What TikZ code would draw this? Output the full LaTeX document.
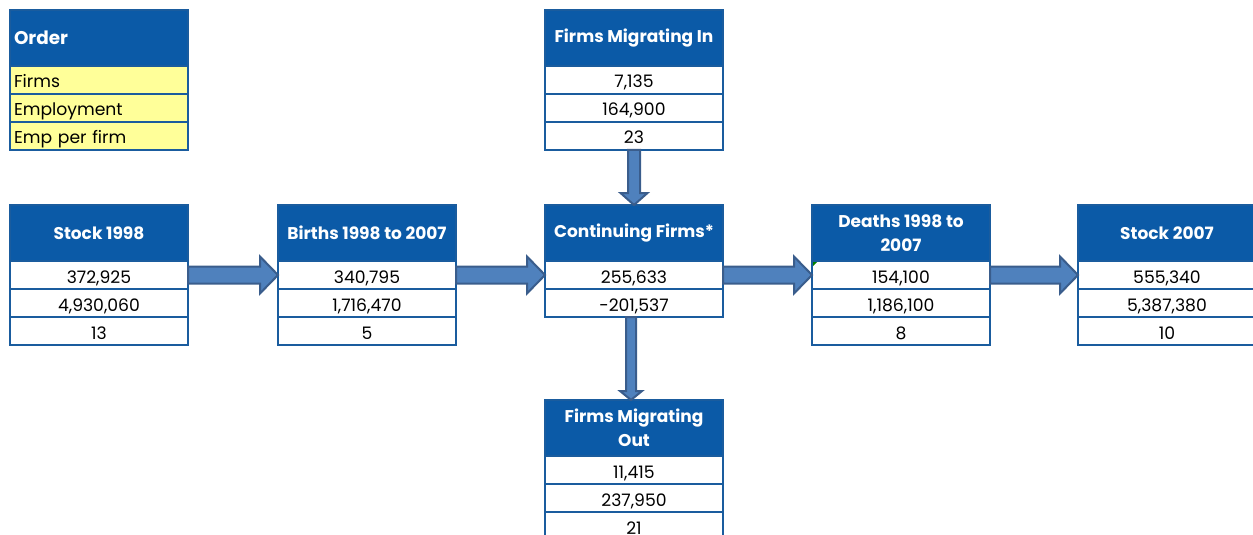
\documentclass[tikz,border=0pt]{standalone}
\usepackage{fontspec}
\setmainfont{Poppins}
\usetikzlibrary{positioning,calc}
\definecolor{hdrblue}{HTML}{0B5AA7}
\definecolor{rulblue}{HTML}{1A5C9E}
\definecolor{arrfill}{HTML}{4F81BD}
\definecolor{arrline}{HTML}{3A5D8C}
\definecolor{keyyel}{HTML}{FFFF99}

\begin{document}
\begin{tikzpicture}[
  x=0.5pt, y=-0.5pt,
  node distance=0pt,
  hdr/.style={draw=rulblue, fill=hdrblue, text=white, line width=1pt,
              minimum width=89pt, minimum height=28pt, inner sep=0pt,
              outer sep=0pt, align=center, anchor=north west,
              font=\fontsize{8.5}{12}\selectfont\bfseries},
  cell/.style={draw=rulblue, fill=white, line width=1pt, minimum width=89pt,
               minimum height=14pt, inner sep=0pt, outer sep=0pt,
               text height=8pt, text depth=0pt,
               font=\fontsize{8.6}{9}\selectfont},
  key/.style={cell, fill=keyyel, text width=85pt, align=left},
  fatarr/.style n args={3}{draw=arrline, fill=arrfill, line width=1pt,
    to path={
      ($(\tikztostart)!#1!90:(\tikztotarget)$)
      -- ($($(\tikztotarget)!#3!(\tikztostart)$)!#1!90:(\tikztotarget)$)
      -- ($($(\tikztotarget)!#3!(\tikztostart)$)!#2!90:(\tikztotarget)$)
      -- (\tikztotarget)
      -- ($($(\tikztotarget)!#3!(\tikztostart)$)!#2!-90:(\tikztotarget)$)
      -- ($($(\tikztotarget)!#3!(\tikztostart)$)!#1!-90:(\tikztotarget)$)
      -- ($(\tikztostart)!#1!-90:(\tikztotarget)$) -- cycle}},
]
  \useasboundingbox (0,0) rectangle (1253,535);
  \clip (0,0) rectangle (1253,535);

  % legend
  \node[hdr, text width=85pt, align=left, font=\fontsize{9.2}{12}\selectfont\bfseries]
       (ord) at (10,10) {Order};
  \node[key, below=of ord] (orda) {Firms};
  \node[key, below=of orda] (ordb) {Employment};
  \node[key, below=of ordb] (ordc) {Emp per firm};

  % migrating in
  \node[hdr] (min) at (545,10) {Firms Migrating In};
  \node[cell, below=of min] (mina) {7,135};
  \node[cell, below=of mina] (minb) {164,900};
  \node[cell, below=of minb] (minc) {23};

  % stock 1998
  \node[hdr] (sta) at (10,205) {Stock 1998};
  \node[cell, below=of sta] (staa) {372,925};
  \node[cell, below=of staa] (stab) {4,930,060};
  \node[cell, below=of stab] (stac) {13};

  % births
  \node[hdr] (bir) at (278,205) {Births 1998 to 2007};
  \node[cell, below=of bir] (bira) {340,795};
  \node[cell, below=of bira] (birb) {1,716,470};
  \node[cell, below=of birb] (birc) {5};

  % continuing
  \node[hdr] (con) at (545,205) {Continuing Firms*};
  \node[cell, below=of con] (cona) {255,633};
  \node[cell, below=of cona] (conb) {-201,537};

  % deaths
  \node[hdr] (dea) at (812,205) {Deaths 1998 to\\2007};
  \node[cell, below=of dea] (deaa) {154,100};
  \node[cell, below=of deaa] (deab) {1,186,100};
  \node[cell, below=of deab] (deac) {8};
  \fill[green!50!black] (deaa.north west) ++(1,1) -- ++(4,0) -- ++(-4,4) -- cycle;

  % stock 2007
  \node[hdr] (stb) at (1078,205) {Stock 2007};
  \node[cell, below=of stb] (stba) {555,340};
  \node[cell, below=of stba] (stbb) {5,387,380};
  \node[cell, below=of stbb] (stbc) {10};

  % migrating out
  \node[hdr] (mout) at (545,400) {Firms Migrating\\Out};
  \node[cell, below=of mout] (mouta) {11,415};
  \node[cell, below=of mouta] (moutb) {237,950};
  \node[cell, below=of moutb] (moutc) {21};

  % flows
  \draw[fatarr={4.25pt}{9.25pt}{9pt}] (staa.east) to (bira.west);
  \draw[fatarr={4.25pt}{9.25pt}{9pt}] (bira.east) to (cona.west);
  \draw[fatarr={4.25pt}{9.25pt}{9pt}] (cona.east) to (deaa.west);
  \draw[fatarr={4.25pt}{9.25pt}{9pt}] (deaa.east) to (stba.west);
  \draw[fatarr={3pt}{6.75pt}{6pt}] (minc.south) to (con.north);
  \draw[fatarr={2.5pt}{5.5pt}{4.5pt}] ([xshift=-1.5pt]conb.south) to ([xshift=-1.5pt]mout.north);
\end{tikzpicture}
\end{document}
